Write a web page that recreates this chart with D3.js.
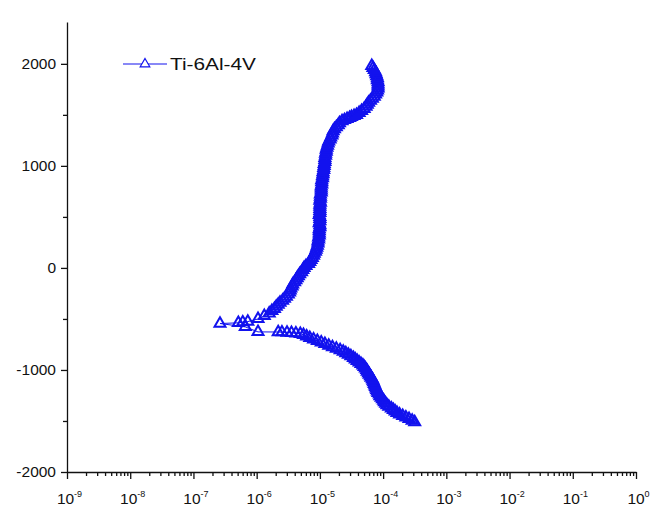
<!DOCTYPE html>
<html>
<head>
<meta charset="utf-8">
<script src="https://cdn.jsdelivr.net/npm/d3@7/dist/d3.min.js"></script>
<style>
  body { margin: 0; background: #fff; }
  text { font-family: "Liberation Sans", Arial, sans-serif; fill: #111; }
</style>
</head>
<body>
<svg id="chart" width="653" height="512"></svg>
<script>
// Potentiodynamic polarization scan of Ti-6Al-4V: potential (mV) vs current density (A)
const seriesName = "Ti-6Al-4V";

// cathodic branch, scan starts at -1510 mV
const cathodicPotential = [
  -1510, -1495, -1480, -1465, -1450, -1435, -1420, -1405, -1390, -1375,
  -1360, -1345, -1330, -1315, -1300, -1285, -1270, -1255, -1240, -1225,
  -1210, -1195, -1180, -1165, -1150, -1135, -1120, -1105, -1090, -1075,
  -1060, -1045, -1030, -1015, -1000, -985, -970, -955, -940, -925,
  -910, -895, -880, -865, -850, -835, -820, -805, -790, -775,
  -760, -745, -730, -715, -700, -685, -670, -655, -645, -640,
  -636, -633, -630, -628, -627, -578, -545, -538, -532, -526,
  -500, -470, -445
];
const cathodicCurrent = [
  3.16e-4, 2.88e-4, 2.57e-4, 2.29e-4, 2.04e-4, 1.82e-4, 1.66e-4, 1.55e-4, 1.45e-4, 1.35e-4,
  1.23e-4, 1.15e-4, 1.10e-4, 1.05e-4, 1.02e-4, 9.77e-5, 9.33e-5, 8.91e-5, 8.71e-5, 8.32e-5,
  8.13e-5, 7.94e-5, 7.76e-5, 7.59e-5, 7.41e-5, 7.24e-5, 7.08e-5, 6.92e-5, 6.76e-5, 6.46e-5,
  6.31e-5, 6.03e-5, 5.89e-5, 5.62e-5, 5.50e-5, 5.25e-5, 5.01e-5, 4.79e-5, 4.47e-5, 4.17e-5,
  3.89e-5, 3.63e-5, 3.39e-5, 3.09e-5, 2.82e-5, 2.57e-5, 2.34e-5, 2.09e-5, 1.82e-5, 1.58e-5,
  1.38e-5, 1.20e-5, 1.05e-5, 9.12e-6, 7.94e-6, 6.92e-6, 6.17e-6, 5.50e-6, 4.90e-6, 4.17e-6,
  3.55e-6, 3.02e-6, 2.51e-6, 2.19e-6, 1.05e-6, 6.61e-7, 2.63e-7, 5.13e-7, 6.03e-7, 7.24e-7,
  1.05e-6, 1.32e-6, 1.58e-6
];

// anodic branch up to the end of the scan
const anodicPotential = [
  -420, -400, -380, -360, -340, -320, -300, -280, -260, -240,
  -220, -200, -180, -160, -140, -120, -100, -80, -60, -40,
  -20, 0, 20, 40, 60, 80, 100, 120, 140, 160,
  180, 200, 220, 240, 260, 280, 300, 320, 340, 360,
  380, 400, 420, 440, 460, 480, 500, 520, 540, 560,
  580, 600, 620, 640, 660, 680, 700, 720, 740, 760,
  780, 800, 820, 840, 860, 880, 900, 920, 940, 960,
  980, 1000, 1020, 1040, 1060, 1080, 1100, 1120, 1140, 1160,
  1180, 1200, 1220, 1240, 1260, 1280, 1300, 1320, 1340, 1360,
  1380, 1400, 1420, 1440, 1450, 1460, 1470, 1480, 1490, 1500,
  1520, 1540, 1560, 1580, 1600, 1620, 1640, 1660, 1680, 1700,
  1720, 1740, 1760, 1780, 1800, 1820, 1840, 1860, 1880, 1900,
  1920, 1940, 1960, 1980
];
const anodicCurrent = [
  1.74e-6, 1.91e-6, 2.04e-6, 2.19e-6, 2.34e-6, 2.57e-6, 2.75e-6, 2.95e-6, 3.16e-6, 3.31e-6,
  3.39e-6, 3.47e-6, 3.63e-6, 3.72e-6, 3.98e-6, 4.17e-6, 4.37e-6, 4.57e-6, 4.79e-6, 5.13e-6,
  5.37e-6, 5.62e-6, 6.03e-6, 6.61e-6, 6.92e-6, 7.24e-6, 7.59e-6, 7.94e-6, 8.13e-6, 8.51e-6,
  8.71e-6, 8.91e-6, 9.12e-6, 9.33e-6, 9.33e-6, 9.55e-6, 9.55e-6, 9.77e-6, 9.77e-6, 9.77e-6,
  9.77e-6, 1.00e-5, 1.00e-5, 9.77e-6, 1.00e-5, 1.00e-5, 1.00e-5, 9.77e-6, 1.00e-5, 1.00e-5,
  1.00e-5, 1.00e-5, 1.00e-5, 1.02e-5, 1.00e-5, 1.02e-5, 1.02e-5, 1.02e-5, 1.05e-5, 1.05e-5,
  1.05e-5, 1.05e-5, 1.07e-5, 1.07e-5, 1.07e-5, 1.10e-5, 1.10e-5, 1.12e-5, 1.12e-5, 1.15e-5,
  1.15e-5, 1.17e-5, 1.17e-5, 1.20e-5, 1.20e-5, 1.20e-5, 1.23e-5, 1.23e-5, 1.26e-5, 1.26e-5,
  1.29e-5, 1.32e-5, 1.35e-5, 1.38e-5, 1.45e-5, 1.48e-5, 1.55e-5, 1.58e-5, 1.62e-5, 1.70e-5,
  1.82e-5, 1.95e-5, 2.04e-5, 2.24e-5, 2.45e-5, 2.69e-5, 2.95e-5, 3.16e-5, 3.47e-5, 3.80e-5,
  4.17e-5, 4.57e-5, 5.01e-5, 5.37e-5, 5.62e-5, 5.89e-5, 6.31e-5, 6.76e-5, 7.24e-5, 7.59e-5,
  7.94e-5, 8.13e-5, 8.32e-5, 8.32e-5, 8.32e-5, 8.32e-5, 8.13e-5, 8.13e-5, 7.94e-5, 7.76e-5,
  7.59e-5, 7.24e-5, 6.92e-5, 6.61e-5
];

// axis ticks
const yMajorTicks = [-2000, -1000, 0, 1000, 2000];
const yMinorTicks = [-1500, -500, 500, 1500];
const xDecadeExponents = [-9, -8, -7, -6, -5, -4, -3, -2, -1, 0];

const blue = "#1212ee";
const fontStack = '"Liberation Sans", Arial, sans-serif';

const points = cathodicPotential.map((e, i) => ({ e, i: cathodicCurrent[i] }))
  .concat(anodicPotential.map((e, i) => ({ e, i: anodicCurrent[i] })));

const svg = d3.select("#chart");

const x = d3.scaleLog().domain([1e-9, 1]).range([67, 636]);
const y = d3.scaleLinear().domain([-2000, 2410]).range([472, 22]);

// y axis
const yAxis = svg.append("g").attr("transform", "translate(67,0)")
  .call(d3.axisLeft(y).tickValues(yMajorTicks).tickSize(6).tickSizeOuter(0)
    .tickPadding(5).tickFormat(d => String(d)));
svg.append("g").attr("transform", "translate(67,0)")
  .call(d3.axisLeft(y).tickValues(yMinorTicks).tickSize(4).tickFormat(""))
  .call(g => g.select(".domain").remove());
yAxis.selectAll("text").attr("font-size", 15.5).attr("font-family", fontStack).attr("fill", "#111");

// x axis
const xMinor = [];
xDecadeExponents.slice(0, -1).forEach(p => {
  for (let k = 2; k <= 9; k++) xMinor.push(k * Math.pow(10, p));
});
const xAxis = svg.append("g").attr("transform", "translate(0,472)")
  .call(d3.axisBottom(x).tickValues(xDecadeExponents.map(p => Math.pow(10, p)))
    .tickSize(7).tickSizeOuter(0).tickFormat(""));
svg.append("g").attr("transform", "translate(0,472)")
  .call(d3.axisBottom(x).tickValues(xMinor).tickSize(4).tickFormat(""))
  .call(g => g.select(".domain").remove());

xAxis.selectAll(".tick").each(function (d, idx) {
  const t = d3.select(this).append("text")
    .attr("x", 2).attr("y", 32).attr("text-anchor", "middle")
    .attr("font-size", 15.5).attr("fill", "#111")
    .attr("font-family", fontStack);
  t.append("tspan").text("10");
  t.append("tspan").attr("dy", -7).attr("font-size", 9).text(String(xDecadeExponents[idx]));
});

svg.selectAll(".domain, .tick line").attr("stroke", "#111").attr("stroke-width", 1.3);

// connecting line
svg.append("path")
  .datum(points)
  .attr("fill", "none")
  .attr("stroke", blue)
  .attr("stroke-width", 1)
  .attr("d", d3.line().x(d => x(d.i)).y(d => y(d.e)));

// open triangle markers
const tri = d3.symbol(d3.symbolTriangle, 52);
svg.append("g").selectAll("path")
  .data(points)
  .join("path")
  .attr("transform", d => `translate(${x(d.i)},${y(d.e)})`)
  .attr("d", tri)
  .attr("fill", "none")
  .attr("stroke", blue)
  .attr("stroke-width", 2);

// legend
const lg = svg.append("g");
lg.append("line").attr("x1", 123).attr("x2", 167).attr("y1", 64).attr("y2", 64)
  .attr("stroke", blue).attr("stroke-width", 1.2);
lg.append("path").attr("transform", "translate(145,64)")
  .attr("d", d3.symbol(d3.symbolTriangle, 40))
  .attr("fill", "#fff").attr("stroke", blue).attr("stroke-width", 1.2);
lg.append("text").attr("x", 170).attr("y", 70).attr("font-size", 17)
  .attr("textLength", 86).attr("lengthAdjust", "spacingAndGlyphs")
  .text(seriesName);
</script>
</body>
</html>
